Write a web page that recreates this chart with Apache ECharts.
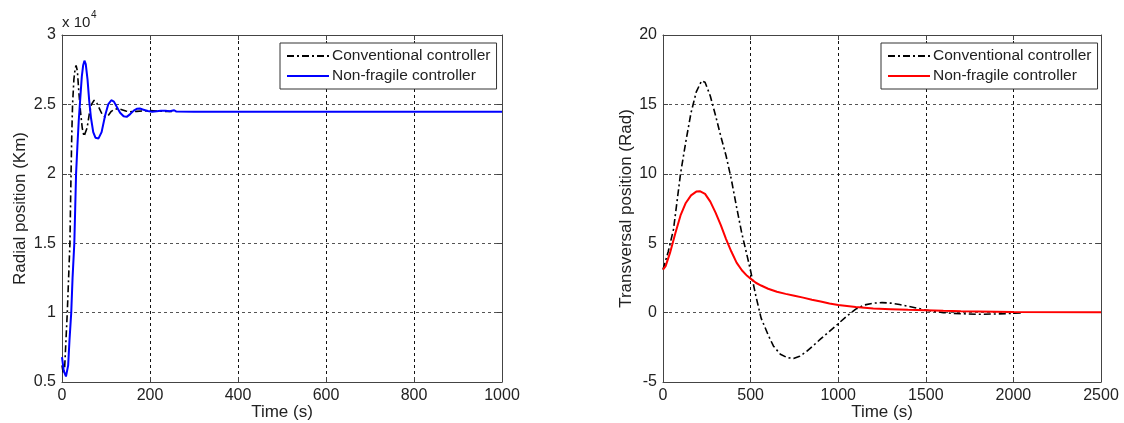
<!DOCTYPE html>
<html>
<head>
<meta charset="utf-8">
<script src="https://cdn.jsdelivr.net/npm/echarts@6/dist/echarts.min.js"></script>
<style>
html,body{margin:0;padding:0;background:#fff;}
#c{width:1124px;height:423px;}
</style>
</head>
<body>
<div id="c"></div>
<script>
// ---- Left panel: radial position (x 10^4 Km) ----
const radialTicksX = [0, 200, 400, 600, 800, 1000];
const radialTicksY = [0.5, 1, 1.5, 2, 2.5, 3];
const radialConventional = [
  [0,0.62],[3,0.56],[6,0.6],[9,0.8],[12,1.0],[15,1.25],[18,1.5],[20,1.9],[22,2.25],[24,2.5],
  [27,2.68],[30,2.76],[32,2.78],[35,2.74],[38,2.6],[42,2.45],[46,2.33],[50,2.27],[53,2.27],
  [57,2.33],[62,2.43],[67,2.5],[73,2.53],[79,2.51],[85,2.47],[91,2.43],[98,2.41],[105,2.42],
  [112,2.45],[120,2.465],[128,2.47],[136,2.462],[145,2.452],[155,2.447],[170,2.45],[200,2.455],
  [230,2.45],[255,2.448]
];
const radialNonFragile = [
  [0,0.68],[4,0.58],[9,0.54],[14,0.62],[17,0.8],[21,1.0],[24,1.25],[28,1.5],[30,1.75],[32,2.0],
  [35,2.2],[38,2.38],[41,2.52],[45,2.7],[48,2.78],[51,2.815],[54,2.79],[58,2.68],[62,2.52],
  [66,2.4],[71,2.3],[76,2.26],[83,2.255],[90,2.3],[98,2.42],[105,2.5],[112,2.53],[118,2.52],
  [125,2.48],[132,2.44],[140,2.415],[147,2.41],[155,2.43],[163,2.455],[170,2.468],[177,2.47],
  [185,2.462],[195,2.452],[205,2.447],[215,2.45],[225,2.455],[235,2.455],[245,2.45],[255,2.458],
  [260,2.448],[300,2.447],[1000,2.447]
];
// ---- Right panel: transversal position (Rad) ----
const transTicksX = [0, 500, 1000, 1500, 2000, 2500];
const transTicksY = [-5, 0, 5, 10, 15, 20];
const transConventional = [
  [0,3.1],[30,4.4],[60,6.0],[100,10.0],[130,12.3],[160,14.4],[190,15.9],[220,16.7],[240,16.6],
  [270,15.6],[300,14.2],[330,12.7],[360,11.3],[390,9.6],[420,7.6],[450,5.7],[480,4.1],[500,3.0],
  [530,1.2],[560,-0.4],[600,-1.6],[630,-2.4],[670,-3.0],[710,-3.25],[745,-3.3],[780,-3.15],
  [820,-2.8],[860,-2.35],[900,-1.9],[950,-1.35],[1000,-0.8],[1050,-0.25],[1100,0.25],[1150,0.55],
  [1200,0.68],[1250,0.72],[1300,0.68],[1350,0.58],[1400,0.45],[1450,0.32],[1500,0.18],[1550,0.08],
  [1600,0.0],[1650,-0.05],[1700,-0.08],[1800,-0.12],[1900,-0.1],[2000,-0.05],[2050,-0.03]
];
const transNonFragile = [
  [0,3.1],[15,3.35],[40,4.3],[70,5.7],[100,7.0],[130,7.9],[160,8.45],[190,8.72],[210,8.75],
  [240,8.55],[270,8.0],[300,7.2],[330,6.3],[360,5.3],[390,4.4],[420,3.6],[450,3.05],[480,2.65],
  [500,2.45],[530,2.15],[560,1.95],[600,1.72],[650,1.5],[700,1.35],[750,1.22],[800,1.08],
  [850,0.93],[900,0.8],[950,0.66],[1000,0.55],[1100,0.4],[1200,0.3],[1300,0.25],[1400,0.2],
  [1500,0.17],[1600,0.13],[1700,0.1],[1710,0.05],[2000,0.04],[2500,0.03]
];
const legendNames = ['Conventional controller', 'Non-fragile controller'];
const axisNames = {
  radialY: 'Radial position (Km)',
  transY: 'Transversal position (Rad)',
  x: 'Time (s)'
};

const FONT = 'Liberation Sans, Arial, sans-serif';
const chart = echarts.init(document.getElementById('c'), null, {renderer: 'canvas'});
const plain = v => String(v);

function mainX(grid, ticks, name) {
  return {
    type: 'value', gridIndex: grid, position: 'bottom',
    min: ticks[0], max: ticks[ticks.length - 1], interval: ticks[1] - ticks[0],
    name: name, nameLocation: 'middle', nameGap: 22, nameMoveOverlap: false,
    nameTextStyle: {fontFamily: FONT, fontSize: 17, color: '#222'},
    axisLine: {show: true, onZero: false, lineStyle: {color: '#444', width: 1}},
    axisTick: {show: true, inside: true, length: 5, lineStyle: {color: '#444'}},
    axisLabel: {fontFamily: FONT, fontSize: 16, color: '#222', margin: 6, formatter: plain},
    splitLine: {show: true, lineStyle: {color: '#111', type: [3, 3], width: 1}}
  };
}
function topX(grid, ticks) {
  return {
    type: 'value', gridIndex: grid, position: 'top',
    min: ticks[0], max: ticks[ticks.length - 1], interval: ticks[1] - ticks[0],
    axisLine: {show: true, onZero: false, lineStyle: {color: '#444', width: 1}},
    axisTick: {show: true, inside: true, length: 5, lineStyle: {color: '#444'}},
    axisLabel: {show: false}, splitLine: {show: false}
  };
}
function mainY(grid, ticks, name, gap) {
  return {
    type: 'value', gridIndex: grid, position: 'left',
    min: ticks[0], max: ticks[ticks.length - 1], interval: ticks[1] - ticks[0],
    name: name, nameLocation: 'middle', nameGap: gap, nameMoveOverlap: false,
    nameTextStyle: {fontFamily: FONT, fontSize: 17, color: '#222'},
    axisLine: {show: true, onZero: false, lineStyle: {color: '#444', width: 1}},
    axisTick: {show: true, inside: true, length: 5, lineStyle: {color: '#444'}},
    axisLabel: {fontFamily: FONT, fontSize: 16, color: '#222', margin: 6, formatter: plain},
    splitLine: {show: true, lineStyle: {color: '#555', type: [3, 3], width: 1}}
  };
}
function rightY(grid, ticks) {
  return {
    type: 'value', gridIndex: grid, position: 'right',
    min: ticks[0], max: ticks[ticks.length - 1], interval: ticks[1] - ticks[0],
    axisLine: {show: true, onZero: false, lineStyle: {color: '#444', width: 1}},
    axisTick: {show: true, inside: true, length: 5, lineStyle: {color: '#444'}},
    axisLabel: {show: false}, splitLine: {show: false}
  };
}
const dashDot = [7, 3, 2, 3];
function legend(left) {
  return {
    left: left, top: 43, orient: 'vertical',
    borderColor: '#333', borderWidth: 1, borderRadius: 0,
    padding: [5, 6, 5, 6], itemGap: 4, itemWidth: 42, itemHeight: 14,
    itemStyle: {opacity: 0},
    textStyle: {fontFamily: FONT, fontSize: 15.5, color: '#222', padding: [0, 0, 0, -2]},
    backgroundColor: '#fff'
  };
}

const option = {
  animation: false,
  backgroundColor: '#fff',
  grid: [
    {left: 62, right: 622, top: 35, bottom: 41, outerBoundsMode: 'none', containLabel: false},
    {left: 663, right: 23, top: 35, bottom: 41, outerBoundsMode: 'none', containLabel: false}
  ],
  xAxis: [
    mainX(0, radialTicksX, axisNames.x),
    topX(0, radialTicksX),
    mainX(1, transTicksX, axisNames.x),
    topX(1, transTicksX)
  ],
  yAxis: [
    mainY(0, radialTicksY, axisNames.radialY, 33),
    rightY(0, radialTicksY),
    mainY(1, transTicksY, axisNames.transY, 28),
    rightY(1, transTicksY)
  ],
  legend: [
    Object.assign(legend(280), {id: 'l0', data: legendNames.map(n => ({name: n}))})
  ],
  graphic: [
    {type: 'text', left: 62, top: 15, style: {text: 'x 10', fontFamily: FONT, fontSize: 15, fill: '#222'}},
    {type: 'text', left: 91, top: 10, style: {text: '4', fontFamily: FONT, fontSize: 10, fill: '#222'}}
  ],
  series: [
    {name: legendNames[0], type: 'line', xAxisIndex: 0, yAxisIndex: 0, data: radialConventional,
     showSymbol: false, symbol: 'none', lineStyle: {color: '#000', width: 1.6, type: dashDot}, itemStyle: {color: '#000'}, z: 2},
    {name: legendNames[1], type: 'line', xAxisIndex: 0, yAxisIndex: 0, data: radialNonFragile,
     showSymbol: false, symbol: 'none', lineStyle: {color: '#0000ff', width: 2}, itemStyle: {color: '#0000ff'}, z: 3},
    {name: 'r_' + legendNames[0], type: 'line', xAxisIndex: 2, yAxisIndex: 2, data: transConventional,
     showSymbol: false, symbol: 'none', lineStyle: {color: '#000', width: 1.6, type: dashDot}, itemStyle: {color: '#000'}, z: 2},
    {name: 'r_' + legendNames[1], type: 'line', xAxisIndex: 2, yAxisIndex: 2, data: transNonFragile,
     showSymbol: false, symbol: 'none', lineStyle: {color: '#ff0000', width: 2}, itemStyle: {color: '#ff0000'}, z: 3}
  ]
};
option.legend.push(Object.assign(legend(881), {id: 'l1',
  data: legendNames.map(n => ({name: 'r_' + n})),
  formatter: n => n.slice(2)}));

chart.setOption(option);
</script>
</body>
</html>
